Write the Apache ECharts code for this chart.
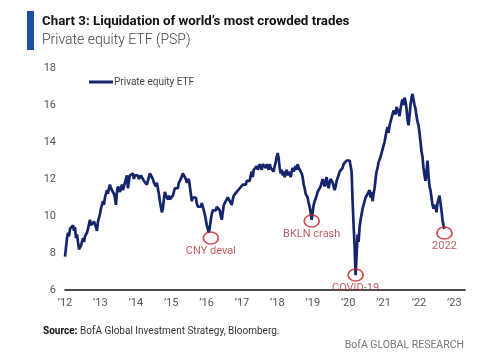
<!DOCTYPE html>
<html>
<head>
<meta charset="utf-8">
<script src="https://cdn.jsdelivr.net/npm/echarts@6/dist/echarts.min.js"></script>
<style>
html,body{margin:0;padding:0;background:#fff;}
#chart{width:500px;height:358px;}
</style>
</head>
<body>
<div id="chart"></div>
<script>
// Time domain: evenly spaced samples (~10 days apart) from start to end (decimal years)
const startYear = 2012.0;
const endYear = 2022.72;
// Private equity ETF (PSP) price
const pspValues = [
7.8,8.3,8.8,9.1,8.9,9.3,9.2,9.4,9.5,9.2,9.4,8.8,9.0,8.6,8.2,8.1,8.4,8.6,8.8,8.6,
8.9,9.0,9.1,9.3,9.2,9.8,9.5,9.6,9.4,9.7,9.8,9.4,9.2,9.7,9.9,10.1,10.4,10.6,10.8,10.6,
11.0,11.2,11.4,11.2,11.5,11.7,11.5,11.6,11.4,11.2,11.0,10.6,11.3,11.6,11.5,11.3,11.5,11.7,11.4,11.6,
11.8,12.0,12.2,11.5,11.9,12.2,12.3,12.1,12.3,12.0,12.2,12.1,12.3,12.2,12.0,11.9,12.2,12.3,12.1,11.9,
12.0,11.8,11.7,11.8,12.1,12.3,12.4,12.3,12.0,11.8,11.9,11.6,11.8,11.5,11.2,10.8,10.5,10.2,10.4,10.9,
11.3,11.1,11.2,10.9,11.1,10.9,10.8,10.9,11.1,11.3,11.5,11.4,11.6,11.5,11.8,11.7,12.0,12.1,12.3,12.4,
12.2,12.0,11.8,11.9,12.0,11.6,11.2,10.8,11.0,11.1,10.9,11.0,10.7,10.5,10.6,10.4,10.5,10.7,10.5,10.3,
10.1,9.8,9.5,9.3,9.1,9.4,9.8,10.1,10.3,10.2,10.4,10.3,10.5,10.6,10.4,10.3,10.0,9.8,10.2,10.6,
10.7,10.8,10.9,11.0,10.9,10.8,10.7,10.6,10.9,11.1,11.2,11.0,11.3,11.4,11.2,11.5,11.6,11.5,11.7,11.6,
11.8,11.7,11.9,11.8,12.0,11.9,12.2,12.4,12.1,12.5,12.6,12.4,12.7,12.5,12.6,12.8,12.7,12.5,12.8,12.7,
12.9,12.6,12.8,12.7,12.5,12.8,12.6,12.7,12.5,12.4,12.7,12.9,13.2,13.4,13.1,12.6,12.3,12.5,12.2,12.4,
12.1,12.3,12.5,12.2,12.4,12.3,12.1,12.4,12.6,12.4,12.5,12.7,12.5,12.8,12.6,12.7,12.5,12.3,12.1,11.7,
11.5,11.2,11.3,11.0,10.7,10.5,10.2,9.8,10.2,10.6,10.8,10.9,11.1,11.3,11.2,11.4,11.6,11.8,12.0,11.8,
11.6,11.9,12.1,11.7,11.5,11.8,12.0,12.1,11.8,11.7,11.4,11.6,11.9,12.0,12.2,12.4,12.5,12.3,12.6,12.8,
12.7,12.9,13.0,12.9,13.1,13.0,13.1,12.4,10.8,9.5,8.4,6.8,7.9,9.0,8.6,9.4,9.8,10.1,10.4,10.3,
10.8,11.0,10.9,11.2,11.1,11.4,11.0,11.3,10.8,11.2,11.5,12.0,12.4,12.6,12.9,13.0,13.2,13.3,13.6,13.8,
14.0,14.3,14.6,14.8,14.5,14.9,15.1,15.0,15.5,15.7,15.8,15.5,15.9,16.0,15.6,15.4,15.8,16.1,16.3,16.0,
16.4,16.2,15.8,15.2,14.9,15.4,16.0,16.4,16.6,16.5,16.0,15.8,15.4,15.1,14.9,14.5,14.0,13.5,13.2,12.6,
12.2,11.9,12.4,13.0,12.2,11.6,11.4,11.0,10.6,10.4,10.3,10.6,10.2,10.7,10.9,11.1,10.7,10.3,9.8,9.5,
9.3
];
// Highlighted troughs
const annoYears = [2016.12, 2018.97, 2020.21, 2022.72];
const annoValues = [8.81, 9.73, 6.81, 9.08];
const annoLabels = ['CNY deval', 'BKLN crash', 'COVID-19', '2022'];
// Axis ticks
const yTicks = [6, 8, 10, 12, 14, 16, 18];
const xTickYears = [2012,2013,2014,2015,2016,2017,2018,2019,2020,2021,2022,2023];

const n = pspValues.length;
const step = (endYear - startYear) / (n - 1);
const seriesData = pspValues.map((v, i) => [startYear + i * step, v]);
const annoData = annoYears.map((y, i) => ({value: [y, annoValues[i]], label: {formatter: annoLabels[i]}}));

const chart = echarts.init(document.getElementById('chart'), null, {renderer: 'canvas'});
const FONT = 'Roboto, "Liberation Sans", sans-serif';
chart.setOption({
  animation: false,
  backgroundColor: '#ffffff',
  grid: {left: 65, right: 35, top: 68, bottom: 68},
  legend: {
    data: ['Private equity ETF'],
    left: 84, top: 72,
    icon: 'rect', itemWidth: 24, itemHeight: 3, itemGap: 5,
    textStyle: {color: '#444', fontSize: 10, fontFamily: FONT, padding: [0,0,0,-4]}
  },
  xAxis: {
    type: 'value', min: 2012, max: 2023.3, interval: 1,
    axisLine: {show: true, onZero: false, lineStyle: {color: '#111', width: 1.5}},
    axisTick: {show: false},
    splitLine: {show: false},
    axisLabel: {
      color: '#555', fontSize: 11, fontFamily: FONT, margin: 8,
      showMaxLabel: false,
      formatter: v => xTickYears.includes(v) ? '\u2019' + String(v).slice(2) : ''
    }
  },
  yAxis: {
    type: 'value', min: yTicks[0], max: yTicks[yTicks.length-1], interval: 2,
    axisLine: {show: false}, axisTick: {show: false}, splitLine: {show: false},
    axisLabel: {color: '#555', fontSize: 11, fontFamily: FONT, margin: 9}
  },
  series: [
    {
      name: 'Private equity ETF', type: 'line', data: seriesData,
      showSymbol: false, symbol: 'none',
      lineStyle: {color: '#15256b', width: 2.7},
      itemStyle: {color: '#15256b'},
      z: 2
    },
    {
      name: 'annotations', type: 'scatter', data: annoData,
      symbol: 'circle', symbolSize: [15, 12],
      itemStyle: {color: 'rgba(0,0,0,0)', borderColor: '#c8202a', borderWidth: 1.6},
      label: {show: true, position: 'bottom', distance: 1, color: '#b2343a', fontSize: 11, fontFamily: FONT},
      z: 3
    }
  ],
  graphic: [
    {type: 'rect', shape: {x: 27, y: 11, width: 7, height: 39}, style: {fill: '#1b4fa8'}},
    {type: 'text', left: 42, top: 15, style: {text: 'Chart 3: Liquidation of world\u2019s most crowded trades', fill: '#111', font: 'bold 13.3px ' + FONT}},
    {type: 'text', left: 42, top: 33, style: {text: 'Private equity ETF (PSP)', fill: '#444', font: '300 14px ' + FONT}},
    {type: 'text', left: 43, top: 326, style: {text: 'Source:', fill: '#111', font: 'bold 10px ' + FONT}},
    {type: 'text', left: 80, top: 326, style: {text: 'BofA Global Investment Strategy, Bloomberg.', fill: '#333', font: '10px ' + FONT}},
    {type: 'text', right: 36, top: 340, style: {text: 'BofA GLOBAL RESEARCH', fill: '#777', font: '10.5px ' + FONT}}
  ]
});
</script>
</body>
</html>
